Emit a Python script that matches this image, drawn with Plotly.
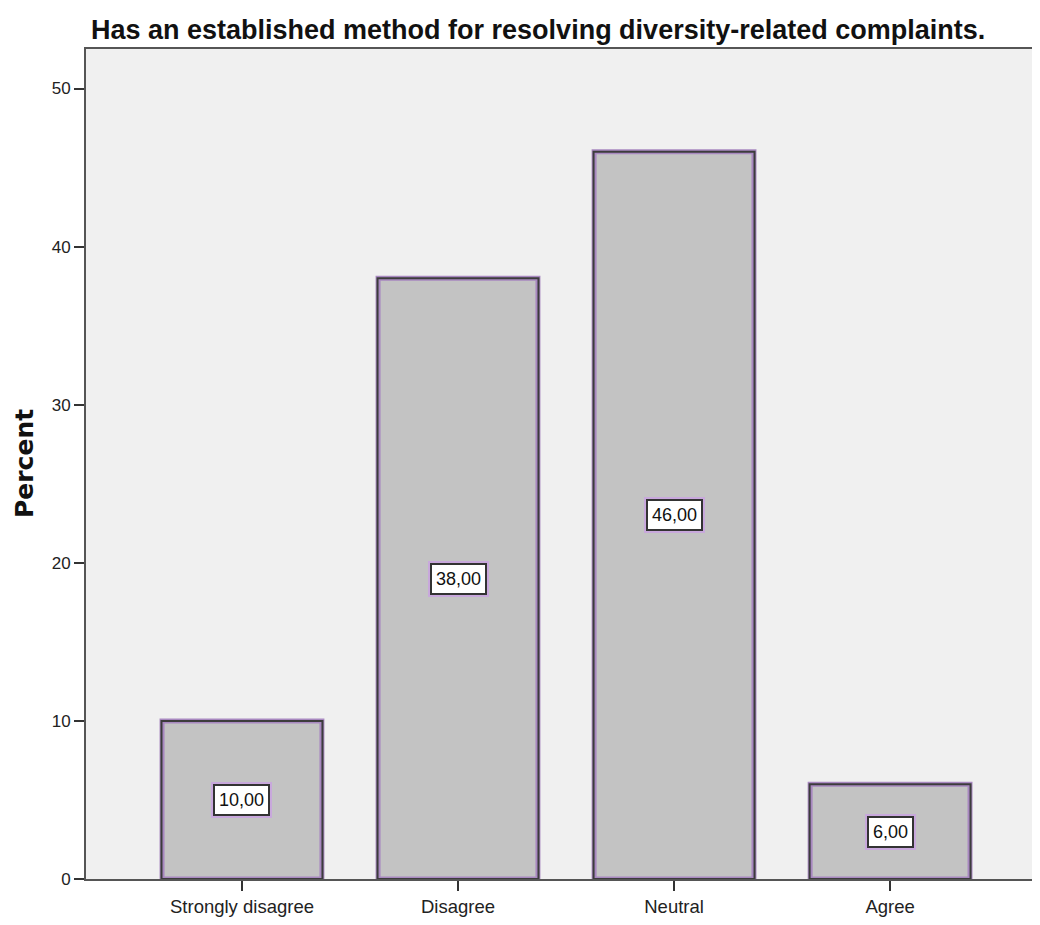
import plotly.graph_objects as go

categories = ["Strongly disagree", "Disagree", "Neutral", "Agree"]
percents = [10.0, 38.0, 46.0, 6.0]
labels = ["10,00", "38,00", "46,00", "6,00"]
y_ticks = [0, 10, 20, 30, 40, 50]
title_text = "Has an established method for resolving diversity-related complaints."
y_title = "Percent"

fig = go.Figure()
fig.add_trace(go.Bar(
    x=list(range(len(categories))), y=percents, width=0.74,
    marker=dict(color="#c3c3c3", line=dict(color="#a888c0", width=5)),
    hoverinfo="skip", showlegend=False,
))
fig.add_trace(go.Bar(
    x=list(range(len(categories))), y=percents, width=0.745,
    marker=dict(color="rgba(0,0,0,0)", line=dict(color="#3c3c3c", width=2)),
    hoverinfo="skip", showlegend=False,
))

for i, (v, t) in enumerate(zip(percents, labels)):
    fig.add_annotation(x=i, y=v / 2, text=t, showarrow=False,
                       font=dict(family="Liberation Sans, Arial", size=18, color="rgba(0,0,0,0)"),
                       bgcolor="#c8a8dc", bordercolor="#c8a8dc", borderwidth=1, borderpad=7)
    fig.add_annotation(x=i, y=v / 2, text=t, showarrow=False,
                       font=dict(family="Liberation Sans, Arial", size=18, color="#111"),
                       bgcolor="white", bordercolor="#333", borderwidth=2, borderpad=4)

fig.add_annotation(xref="paper", yref="paper", x=0, y=1, xanchor="left", yanchor="middle",
                   xshift=3, yshift=19, showarrow=False,
                   text="<b>" + title_text + "</b>",
                   font=dict(family="Liberation Sans, Arial", size=27, color="#111"))
fig.add_annotation(xref="paper", yref="paper", x=0, y=0.5, xanchor="center", yanchor="middle",
                   xshift=-62, showarrow=False, textangle=-90,
                   text="<b>" + y_title + "</b>",
                   font=dict(family="DejaVu Sans, Liberation Sans", size=25, color="#111"))

fig.update_layout(
    width=1040, height=909,
    margin=dict(l=78, r=0, t=41, b=38),
    paper_bgcolor="white", plot_bgcolor="#f0f0f0",
    barmode="overlay",
    font=dict(family="Liberation Sans, Arial", color="#222"),
)
fig.update_xaxes(
    range=[-0.722, 3.731], tickmode="array", tickvals=list(range(len(categories))),
    ticktext=categories, ticks="outside", ticklen=10, tickwidth=2, tickcolor="#333",
    showline=True, linecolor="#555", linewidth=2, mirror=True, showgrid=False,
    tickfont=dict(size=18.5, color="#222"), zeroline=False,
)
fig.update_yaxes(
    range=[0, 52.5], tickvals=y_ticks, ticks="outside", ticklen=10, tickwidth=2, tickcolor="#333",
    showline=True, linecolor="#555", linewidth=2, showgrid=False, zeroline=False,
    tickfont=dict(size=17, color="#222"),
)

fig.write_html("out.html")
